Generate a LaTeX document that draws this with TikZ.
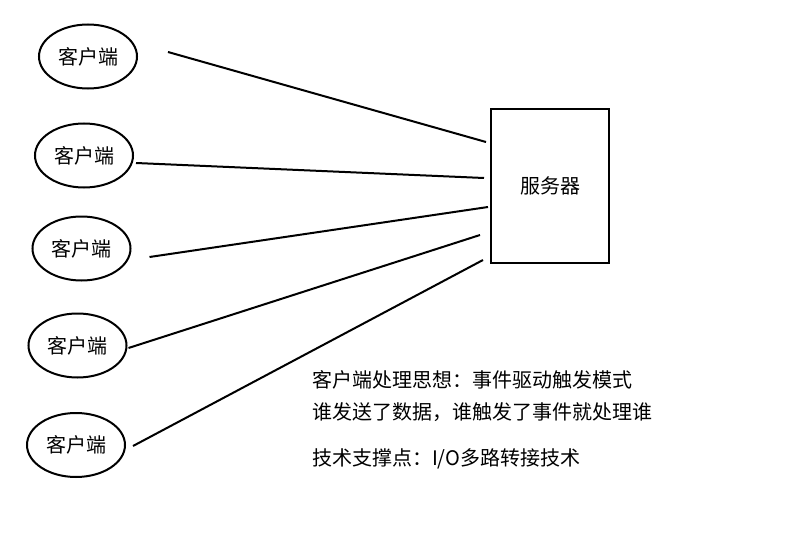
\documentclass[tikz,border=0pt]{standalone}
\usepackage{fontspec}
\setmainfont{Noto Sans CJK SC}
\usetikzlibrary{shapes.geometric,calc}
\begin{document}
\begin{tikzpicture}[
 x=1pt,y=-1pt,
 line width=2pt,
 font=\fontsize{20}{26}\selectfont,
 client/.style={draw=black,ellipse,minimum width=98pt,minimum height=64pt,inner sep=0pt},
 server/.style={draw=black,rectangle,minimum width=118pt,minimum height=154pt},
 note/.style={anchor=west,inner sep=0pt}
]
\useasboundingbox (0,0) rectangle (793,535);
\node (client1) [client] at (88,56.5) {客户端};
\node (client2) [client] at (84,155.5) {客户端};
\node (client3) [client] at (81.5,248.5) {客户端};
\node (client4) [client] at (77.5,345.5) {客户端};
\node (client5) [client] at (76,445) {客户端};
\node (server-box) [server] at (550,186) {服务器};
\draw ($(client1.east)+(30,-4.5)$) -- ($(server-box.west)+(-4,-44)$);
\draw ($(client2.east)+(2,7.5)$) -- ($(server-box.west)+(-6,-8)$);
\draw ($(client3.east)+(18,8.5)$) -- ($(server-box.west)+(-2,21)$);
\draw ($(client4.east)+(1,2.5)$) -- ($(server-box.west)+(-10,49)$);
\draw ($(client5.east)+(7,1)$) -- ($(server-box.west)+(-7,74)$);
\node (idea) [note] at (311,380) {客户端处理思想：事件驱动触发模式};
\node (who) [note] at (311,412) {谁发送了数据，谁触发了事件就处理谁};
\node (tech) [note] at (311,459) {技术支撑点：I/O多路转接技术};
\end{tikzpicture}
\end{document}
